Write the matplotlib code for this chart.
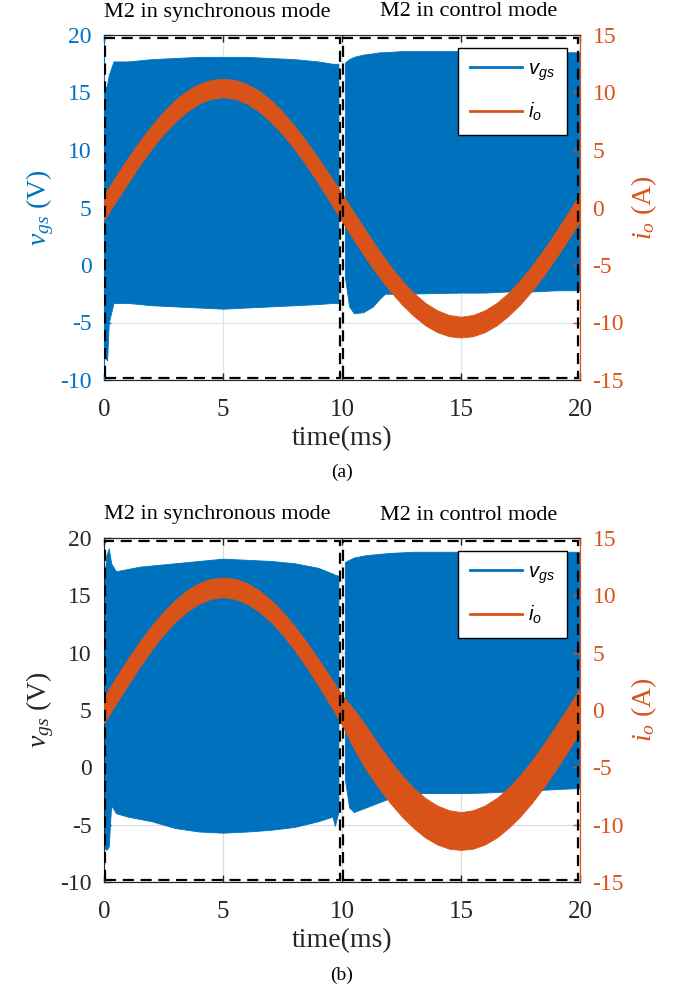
import numpy as np
import matplotlib
matplotlib.use('Agg')
import matplotlib.pyplot as plt
from matplotlib.patches import Rectangle
from matplotlib.lines import Line2D

plt.rcParams['font.family'] = ['Liberation Serif', 'DejaVu Serif']
plt.rcParams['mathtext.fontset'] = 'custom'
plt.rcParams['mathtext.rm'] = 'Liberation Serif'
plt.rcParams['mathtext.it'] = 'Liberation Serif:italic'
plt.rcParams['mathtext.sf'] = 'Liberation Sans:italic'
plt.rcParams['axes.unicode_minus'] = False

BLUE = '#0072BD'
ORANGE = '#D95319'
DARK = '#262626'

# output current io (A), sampled every 0.5 ms: band centre and peak-to-peak ripple
t_io = [0, 0.5, 1, 1.5, 2, 2.5, 3, 3.5, 4, 4.5, 5, 5.5, 6, 6.5, 7, 7.5, 8, 8.5, 9, 9.5,
        10, 10.5, 11, 11.5, 12, 12.5, 13, 13.5, 14, 14.5, 15, 15.5, 16, 16.5, 17, 17.5,
        18, 18.5, 19, 19.5, 20]
io_a = [0.0, 1.63, 3.21, 4.72, 6.11, 7.35, 8.41, 9.27, 9.89, 10.27, 10.4,
        10.27, 9.89, 9.27, 8.41, 7.35, 6.11, 4.72, 3.21, 1.63, 0.0,
        -1.63, -3.21, -4.72, -6.11, -7.35, -8.41, -9.27, -9.89, -10.27, -10.4,
        -10.27, -9.89, -9.27, -8.41, -7.35, -6.11, -4.72, -3.21, -1.63, 0.0]
io_a_ripple = [2.2, 2.2, 2.2, 2.1, 2.0, 1.95, 1.9, 1.8, 1.7, 1.65, 1.6,
               1.65, 1.7, 1.8, 1.9, 1.95, 2.0, 2.1, 2.2, 2.3, 2.4,
               2.4, 2.4, 2.3, 2.2, 2.1, 2.0, 1.95, 1.9, 1.85, 1.8,
               1.85, 1.9, 1.95, 2.0, 2.1, 2.2, 2.25, 2.3, 2.35, 2.4]
io_b = [0.0, 1.67, 3.31, 4.86, 6.29, 7.57, 8.66, 9.53, 10.18, 10.57, 10.7,
        10.57, 10.18, 9.53, 8.66, 7.57, 6.29, 4.86, 3.31, 1.67, 0.0,
        -1.65, -3.26, -4.79, -6.20, -7.46, -8.53, -9.40, -10.03, -10.42, -10.55,
        -10.42, -10.03, -9.40, -8.53, -7.46, -6.20, -4.79, -3.26, -1.65, 0.0]
io_b_ripple = [2.3, 2.3, 2.3, 2.2, 2.1, 2.0, 1.9, 1.85, 1.8, 1.75, 1.7,
               1.75, 1.8, 1.85, 1.9, 2.0, 2.1, 2.2, 2.3, 2.45, 2.6,
               3.4, 3.8, 3.75, 3.7, 3.6, 3.5, 3.45, 3.4, 3.35, 3.3,
               3.35, 3.4, 3.45, 3.5, 3.6, 3.7, 3.75, 3.8, 3.8, 3.8]

# gate voltage vgs (V) envelope, (a) synchronous mode
ta_sync = [0.0, 0.1, 0.13, 0.2, 0.4, 1, 2, 3, 4, 5, 6, 7, 8, 9, 9.6, 9.85]
vgs_a_sync_hi = [15.0, 15.5, 15.7, 16.5, 17.7, 17.7, 17.9, 18.0, 18.1, 18.1, 18.1, 18.0, 17.9, 17.7, 17.5, 17.5]
vgs_a_sync_lo = [-8.0, -8.2, -8.3, -5.0, -3.3, -3.3, -3.5, -3.6, -3.7, -3.8, -3.7, -3.6, -3.5, -3.4, -3.3, -3.3]
# (a) control mode
ta_ctrl = [10.12, 10.3, 10.5, 10.9, 11.3, 11.6, 11.8, 12.5, 13.7, 15, 16, 17, 18, 19, 20]
vgs_a_ctrl_hi = [17.6, 17.9, 18.1, 18.3, 18.4, 18.5, 18.5, 18.6, 18.6, 18.6, 18.6, 18.6, 18.5, 18.5, 18.5]
vgs_a_ctrl_lo = [-1.0, -3.6, -4.2, -4.1, -3.6, -2.9, -2.5, -2.5, -2.45, -2.4, -2.4, -2.3, -2.3, -2.2, -2.2]

# (b) synchronous mode
tb_sync = [0.0, 0.1, 0.2, 0.3, 0.5, 1, 1.5, 2, 3, 4, 5, 6, 7, 8, 9, 9.6, 9.7, 9.85]
vgs_b_sync_hi = [16.0, 18.5, 19.1, 17.8, 17.1, 17.3, 17.5, 17.6, 17.8, 18.0, 18.2, 18.1, 18.0, 17.8, 17.4, 16.9, 16.8, 16.7]
vgs_b_sync_lo = [-7.0, -7.2, -6.9, -3.3, -4.0, -4.3, -4.5, -4.7, -5.3, -5.6, -5.7, -5.6, -5.45, -5.2, -4.7, -4.3, -5.1, -3.9]
# (b) control mode
tb_ctrl = [10.12, 10.3, 10.5, 11, 12, 13, 14, 15, 16, 17, 18, 19, 20]
vgs_b_ctrl_hi = [17.9, 18.1, 18.3, 18.5, 18.7, 18.8, 18.8, 18.8, 18.8, 18.8, 18.8, 18.8, 18.8]
vgs_b_ctrl_lo = [-1.0, -3.5, -3.9, -3.5, -2.7, -2.25, -2.25, -2.25, -2.2, -2.1, -2.0, -1.9, -1.8]

x_ticks = [0, 5, 10, 15, 20]
vgs_ticks = [-10, -5, 0, 5, 10, 15, 20]
io_ticks = [-15, -10, -5, 0, 5, 10, 15]

fig = plt.figure(figsize=(6.84, 10), dpi=100)


def draw_panel(rect, vgs_parts, io_c, io_r, left_color, grid_color, tag, title_y, tag_y):
    ax = fig.add_axes(rect)
    ax2 = ax.twinx()
    ax.set_axisbelow(True)
    for t, lo, hi in vgs_parts:
        ax.fill_between(t, lo, hi, color=BLUE, lw=0.6, edgecolor=BLUE)
    c = np.array(io_c)
    r = np.array(io_r) / 2
    ax2.fill_between(t_io, c - r, c + r, color=ORANGE, lw=0.6, edgecolor=ORANGE)

    ax.set_xlim(0, 20)
    ax.set_ylim(-10, 20)
    ax2.set_ylim(-15, 15)
    ax.set_xticks(x_ticks)
    ax.set_yticks(vgs_ticks)
    ax2.set_yticks(io_ticks)
    ax.grid(True, color=grid_color, lw=0.9)

    ax.tick_params(axis='x', direction='in', length=5, width=1, top=True,
                   labelsize=18, colors=DARK, pad=14)
    ax.tick_params(axis='y', direction='in', length=5, width=1,
                   labelsize=17, colors=left_color, pad=9)
    ax2.tick_params(axis='y', direction='in', length=5, width=1,
                    labelsize=17, colors=ORANGE, pad=9)
    for a in (ax, ax2):
        a.spines['top'].set_color(DARK)
        a.spines['bottom'].set_color(DARK)
        a.spines['left'].set_color(left_color)
        a.spines['right'].set_color(ORANGE)
    ax2.spines['left'].set_visible(False)

    ax.set_xlabel('time(ms)', fontsize=20, color=DARK, labelpad=3)
    ax.set_ylabel(r'$v_{gs}$ (V)', fontsize=20, color=left_color, labelpad=3)
    ax2.set_ylabel(r'$i_o$ (A)', fontsize=20, color=ORANGE, labelpad=4)

    trans = ax2.get_xaxis_transform()
    for x0, x1 in [(0.04, 9.92), (10.05, 19.92)]:
        ax2.add_patch(Rectangle((x0, 0.006), x1 - x0, 0.985, transform=trans,
                                fill=False, ec='k', lw=1.6, ls=(0, (5, 3)), zorder=5))

    handles = [Line2D([], [], color=BLUE, lw=2), Line2D([], [], color=ORANGE, lw=2)]
    leg = ax2.legend(handles, [r'$\mathsf{v_{gs}}$', r'$\mathsf{i_o}$'],
                     loc='upper right', bbox_to_anchor=(0.973, 0.962),
                     fancybox=False, edgecolor='k', framealpha=1, fontsize=14.5,
                     handlelength=2.6, handletextpad=0.3, labelspacing=0.9,
                     borderpad=0.6, borderaxespad=0)
    leg.get_frame().set_linewidth(1.0)
    leg.set_zorder(10)

    fig.text(217 / 684, title_y, 'M2 in synchronous mode', ha='center', va='center',
             fontsize=16, color='k')
    fig.text(469 / 684, title_y, 'M2 in control mode', ha='center', va='center',
             fontsize=16, color='k')
    fig.text(342 / 684, tag_y, tag, ha='center', va='center', fontsize=14, color='k')
    return ax, ax2


draw_panel([104 / 684, 0.620, 476 / 684, 0.345],
           [(ta_sync, vgs_a_sync_lo, vgs_a_sync_hi), (ta_ctrl, vgs_a_ctrl_lo, vgs_a_ctrl_hi)],
           io_a, io_a_ripple, BLUE, '#d6e6f2', '(a)', 1 - 12 / 1000, 1 - 472 / 1000)
draw_panel([104 / 684, 0.118, 476 / 684, 0.344],
           [(tb_sync, vgs_b_sync_lo, vgs_b_sync_hi), (tb_ctrl, vgs_b_ctrl_lo, vgs_b_ctrl_hi)],
           io_b, io_b_ripple, DARK, '#dcdcdc', '(b)', 1 - 515 / 1000, 1 - 975 / 1000)

fig.savefig('out.png', dpi=100)
